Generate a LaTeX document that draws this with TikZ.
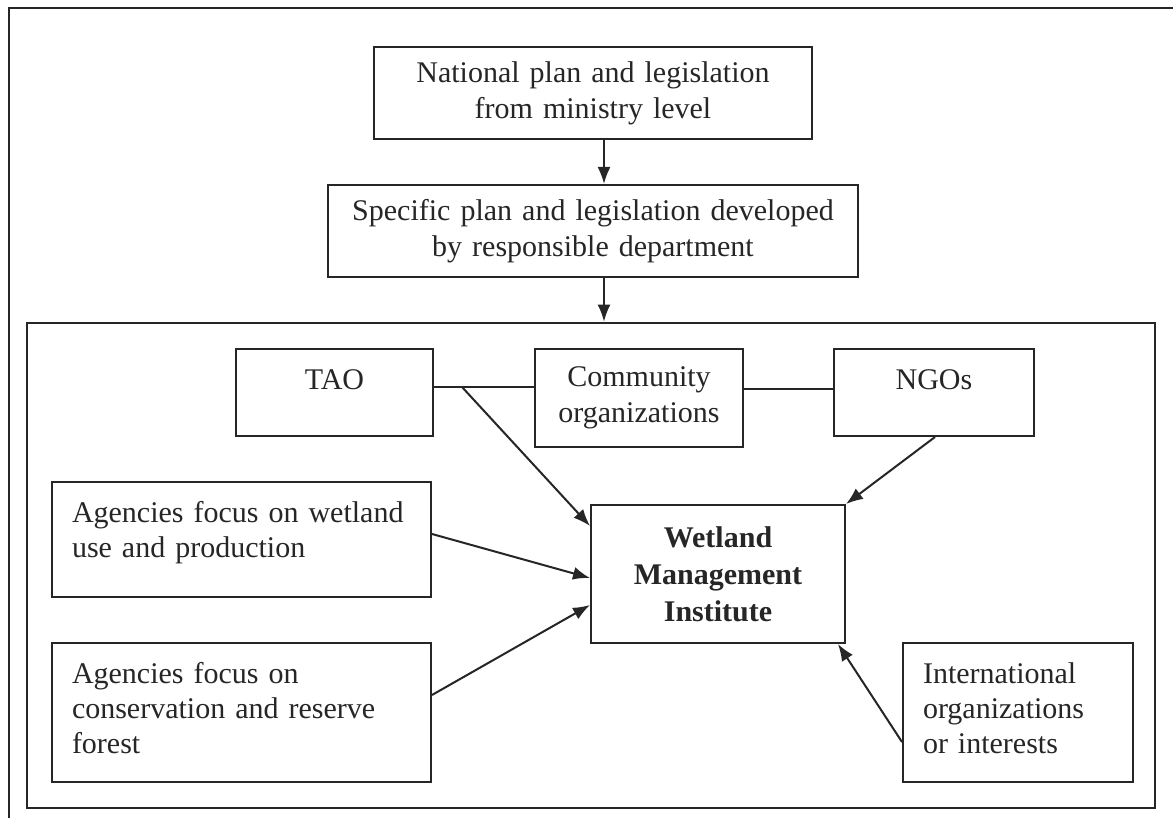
\documentclass[tikz,border=0pt]{standalone}
\usepackage{fontspec}
\setmainfont{Liberation Serif}
\usetikzlibrary{arrows.meta}
\definecolor{ink}{HTML}{262626}
\tikzset{
  box/.style={draw=ink, line width=2pt, rectangle, inner sep=0pt, text=ink,
    font=\fontsize{30}{36}\selectfont},
  ctr/.style={box, align=center},
  topbox/.style={box, inner xsep=20pt, inner ysep=0pt, text height=40pt},
  arr/.style={draw=ink, line width=2pt, -{Latex[length=17pt,width=13pt]}},
  ln/.style={draw=ink, line width=2pt},
}
\begin{document}
\begin{tikzpicture}[x=1pt,y=-1pt]
\clip (0,0) rectangle (1173,818);
\fill[white] (0,0) rectangle (1173,818);
% outer frame (right and bottom off the page)
\draw[ink, line width=2.6pt] (9,830) -- (9,8) -- (1190,8);
% inner frame
\node[draw=ink, line width=2.6pt, rectangle, inner sep=0pt, minimum width=1128pt, minimum height=485pt] (frame) at (591,565.5) {};
\coordinate (ax) at (604,0);

\node[ctr, text width=420pt, minimum width=438pt, minimum height=92pt] (nat) at (593,93)
  {National plan and legislation\\from ministry level};
\node[ctr, text width=515pt, minimum width=530pt, minimum height=92pt] (spec) at (593,231)
  {Specific plan and legislation developed\\by responsible department};

\node[topbox, text width=157pt, align=center, text depth=47pt] (tao) at (334.5,392.5) {TAO};
\node[ctr, text width=200pt, minimum width=208pt, minimum height=98pt] (comm) at (639,398)
  {Community\\organizations};
\node[topbox, text width=160pt, align=center, text depth=47pt] (ngo) at (934,392.5) {NGOs};

\node[ctr, text width=240pt, minimum width=254pt, minimum height=138pt,
  font=\fontsize{30}{37}\selectfont\bfseries] (wmi) at (718,574)
  {Wetland\\Management\\Institute};

\node[topbox, text width=339pt, align=left, text depth=75pt,
  font=\fontsize{30}{35}\selectfont] (wet) at (241.5,539.5)
  {Agencies focus on wetland\\use and production};
\node[topbox, text width=339pt, align=left, text depth=99pt,
  font=\fontsize{30}{35}\selectfont] (cons) at (241.5,712.5)
  {Agencies focus on\\conservation and reserve\\forest};
\node[topbox, text width=190pt, align=left, text depth=99pt,
  font=\fontsize{30}{35}\selectfont] (intl) at (1018,712.5)
  {International\\organizations\\or interests};

% vertical arrows
\draw[arr] (nat.south -| ax) -- (spec.north -| ax);
\draw[arr] (spec.south -| ax) -- (frame.north -| ax);

% links between top row
\draw[ln] ([yshift=5.5pt]tao.east) -- ([yshift=11pt]comm.west);
\draw[ln] ([yshift=9pt]comm.east) -- ([yshift=3.5pt]ngo.west);
\coordinate (tj) at (462,387);

% arrows into WMI
\draw[arr] (tj) -- ([yshift=48pt]wmi.west);
\draw[arr] ([xshift=1pt]ngo.south) -- (wmi.north east);
\draw[arr] ([yshift=5.5pt]wet.east) -- ([yshift=-4pt]wmi.west);
\draw[arr] ([yshift=17.5pt]cons.east) -- ([yshift=-31pt]wmi.west);
\draw[arr] ([yshift=-29.5pt]intl.west) -- ([xshift=-8pt]wmi.south east);
\end{tikzpicture}
\end{document}
